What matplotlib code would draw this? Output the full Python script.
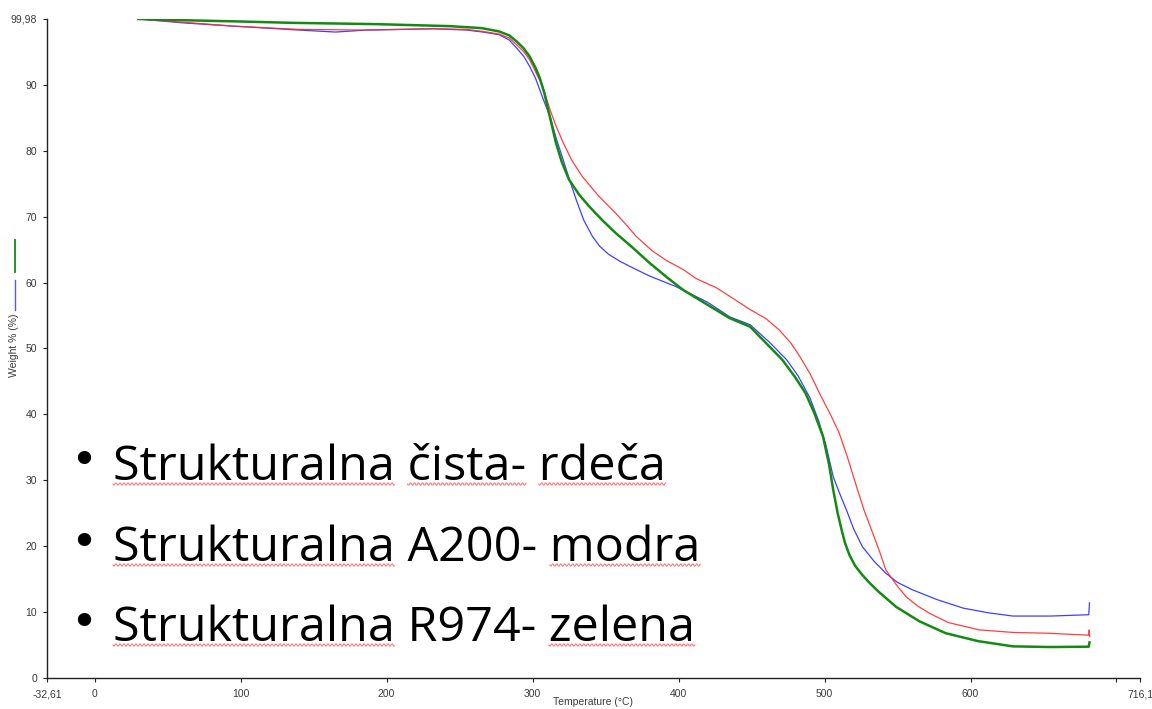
import numpy as np
import matplotlib
matplotlib.use("Agg")
import matplotlib.pyplot as plt
from matplotlib.lines import Line2D

# ---------------- data ----------------
temp_red = [30, 60, 95, 140, 186, 232, 255, 266, 277, 284, 289, 294, 298, 302, 307,
            312, 316, 321, 327, 334, 345, 357, 364, 371, 382, 392, 403, 412, 426, 440,
            449, 460, 469, 477, 483, 490, 497, 504, 510, 516, 522, 527, 533, 538, 542,
            549, 556, 564, 572, 585, 606, 630, 652, 681, 681.3, 681.6]
weight_red = [99.98, 99.5, 98.9, 98.4, 98.3, 98.5, 98.4, 98.1, 97.7, 97.1, 96.1, 95.0, 93.8, 92.0, 89.7,
              86.2, 83.8, 81.2, 78.5, 76.1, 73.2, 70.5, 68.8, 67.0, 64.8, 63.3, 62.0, 60.6, 59.2, 57.2,
              55.9, 54.5, 52.8, 50.8, 48.8, 46.2, 43.0, 40.0, 37.2, 33.3, 29.0, 25.5, 22.0, 19.0, 16.4,
              14.2, 12.3, 10.9, 9.8, 8.4, 7.3, 6.9, 6.8, 6.5, 7.3, 6.3]

temp_blue = [30, 60, 95, 140, 165, 186, 232, 255, 266, 277, 284, 289, 294, 298, 302,
             305, 308, 312, 316, 321, 325, 330, 335, 341, 346, 352, 360, 368, 380, 398, 420,
             435, 449, 462, 474, 482, 490, 496, 501, 506, 510, 515, 520, 526, 534, 542,
             550, 560, 577, 595, 612, 629, 655, 681, 681.5]
weight_blue = [99.98, 99.4, 98.9, 98.3, 98.0, 98.3, 98.5, 98.3, 98.0, 97.6, 96.8, 95.6, 94.3, 92.8, 91.0,
               89.2, 87.4, 85.2, 82.0, 78.6, 75.8, 72.5, 69.5, 67.0, 65.5, 64.3, 63.2, 62.3, 61.0, 59.4, 57.0,
               54.8, 53.6, 51.0, 48.3, 45.8, 42.5, 39.0, 35.3, 30.5, 28.2, 25.5, 22.6, 19.9, 17.7, 15.9,
               14.5, 13.4, 11.9, 10.6, 9.9, 9.4, 9.4, 9.6, 11.4]

temp_green = [30, 60, 100, 135, 193, 243, 265, 277, 284, 289, 294, 298, 302, 305, 308,
              312, 316, 320, 325, 332, 339, 348, 357, 368, 380, 392, 403, 420, 435, 449,
              460, 471, 480, 487, 493, 499, 503, 506, 509, 512, 514, 517, 521, 526, 531, 537, 549, 565,
              583, 605, 629, 655, 681, 681.5]
weight_green = [99.98, 99.8, 99.6, 99.4, 99.2, 98.9, 98.6, 98.1, 97.5, 96.6, 95.5, 94.3, 92.6, 91.0, 88.8,
                85.0, 81.2, 78.3, 75.6, 73.3, 71.5, 69.4, 67.5, 65.4, 63.0, 60.8, 58.9, 56.6, 54.6, 53.3,
                50.8, 48.3, 45.6, 43.2, 40.2, 36.6, 32.5, 28.5, 25.0, 22.2, 20.5, 18.7, 17.0, 15.6, 14.4, 13.1, 10.8, 8.6,
                6.8, 5.6, 4.8, 4.7, 4.75, 5.4]

x_ticks = [-32.61, 0, 100, 200, 300, 400, 500, 600, 700, 716.1]
x_tick_labels = ["-32,61", "0", "100", "200", "300", "400", "500", "600", "", "716,1"]
y_ticks = [0, 10, 20, 30, 40, 50, 60, 70, 80, 90, 99.98]
y_tick_labels = ["0", "10", "20", "30", "40", "50", "60", "70", "80", "90", "99,98"]

bullet_lines = ["Strukturalna čista- rdeča",
                "Strukturalna A200- modra",
                "Strukturalna R974- zelena"]
underlined_words = [["Strukturalna", "čista-", "rdeča"],
                    ["Strukturalna", "modra"],
                    ["Strukturalna", "zelena"]]
x_label = "Temperature (°C)"
y_label = "Weight % (%)"

# ---------------- figure ----------------
W, H = 1152, 709
DPI = 100
fig = plt.figure(figsize=(W / DPI, H / DPI), dpi=DPI)
fig.patch.set_facecolor("white")

def px(x, y):
    return x / W, 1 - y / H

ax_l, ax_r, ax_t, ax_b = 47, 1140, 19, 678
ax = fig.add_axes([ax_l / W, 1 - ax_b / H, (ax_r - ax_l) / W, (ax_b - ax_t) / H])

ax.plot(temp_red, weight_red, color="#ff2a2a", lw=0.9, alpha=0.9, zorder=3)
ax.plot(temp_blue, weight_blue, color="#2a2aff", lw=0.9, alpha=0.9, zorder=2)
ax.plot(temp_green, weight_green, color="#148a14", lw=1.8, zorder=4)

ax.set_xlim(-32.61, 716.1)
ax.set_ylim(0, 99.98)
for s in ["top", "right"]:
    ax.spines[s].set_visible(False)
for s in ["left", "bottom"]:
    ax.spines[s].set_linewidth(1.0)
    ax.spines[s].set_color("#222222")

tick_font = dict(family="Liberation Sans", size=7.5, color="#3a3a3a")
ax.set_xticks(x_ticks)
ax.set_xticklabels(x_tick_labels, **tick_font)
ax.set_yticks(y_ticks)
ax.set_yticklabels(y_tick_labels, **tick_font)
ax.tick_params(axis="x", direction="out", length=3, width=0.8, pad=5, color="#222222")
ax.tick_params(axis="y", direction="out", length=3, width=0.8, pad=4, color="#222222")

# axis titles
fig.text(*px(593, 702), x_label, ha="center", va="center",
         family="Liberation Sans", fontsize=7.5, color="#3a3a3a")
fig.text(*px(14, 345), y_label, ha="center", va="center", rotation=90,
         family="Liberation Sans", fontsize=7.5, color="#3a3a3a")
fig.add_artist(Line2D([15 / W, 15 / W], [1 - 240 / H, 1 - 272 / H],
                      transform=fig.transFigure, color="#148a14", lw=1.3))
fig.add_artist(Line2D([15 / W, 15 / W], [1 - 280 / H, 1 - 310 / H],
                      transform=fig.transFigure, color="#5555ff", lw=1.0))

# ---------------- bullet text ----------------
baselines = [480, 561, 641]
text_x = 113
fam = "Open Sans"
renderer = fig.canvas.get_renderer()

def text_width(s, fs):
    t = fig.text(0, 0, s, fontsize=fs, family=fam)
    w = t.get_window_extent(renderer).width
    t.remove()
    return w

font_size = 30 * 551.0 / text_width(bullet_lines[0], 30)

for line, words, base in zip(bullet_lines, underlined_words, baselines):
    fig.text(*px(text_x, base), line, fontsize=font_size, family=fam,
             color="black", va="baseline", ha="left")
    fig.text(*px(84, base - 17), "•", fontsize=33, family="DejaVu Sans",
             color="black", va="center", ha="center")
    for wd in words:
        idx = line.index(wd)
        end = text_width(line[:idx + len(wd)], font_size)
        start = end - text_width(wd, font_size)
        xs = np.arange(text_x + start, text_x + end, 0.5)
        ys = base + 4 + 1.2 * np.sin((xs - xs[0]) * 2 * np.pi / 4.0)
        fig.add_artist(Line2D(xs / W, 1 - ys / H, transform=fig.transFigure,
                              color="#ff6a6a", lw=0.7))

fig.savefig("out.png", dpi=DPI, facecolor="white")
